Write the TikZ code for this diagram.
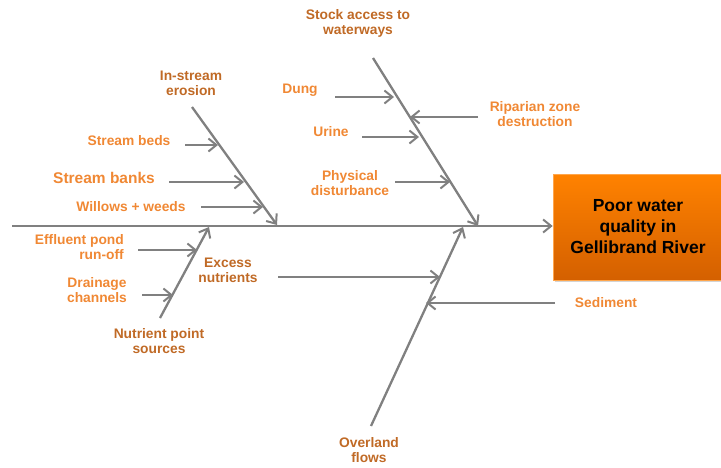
\documentclass[tikz,border=0pt]{standalone}
\usepackage{fontspec}
\setmainfont{Liberation Sans}
\usetikzlibrary{arrows.meta,shadows}
\definecolor{bonegray}{RGB}{128,128,128}
\definecolor{causedark}{RGB}{192,106,38}
\definecolor{causelight}{RGB}{240,136,52}
\definecolor{effecttop}{RGB}{255,130,0}
\definecolor{effectbot}{RGB}{212,96,0}
\begin{document}
\begin{tikzpicture}[x=1pt,y=-1pt,
  bone/.style={draw=bonegray,line width=2.3pt},
  arr/.style={bone,-{Straight Barb[length=8pt,width=13pt,line width=2pt]}},
  maincause/.style={font=\bfseries\fontsize{13.8}{15}\selectfont,text=causedark,align=center,inner sep=0pt},
  subcause/.style={font=\bfseries\fontsize{13.8}{15}\selectfont,text=causelight,align=center,inner sep=0pt},
  effectbox/.style={draw=orange!70,line width=0.6pt,top color=effecttop,bottom color=effectbot,
    minimum width=170pt,minimum height=106pt,align=center,inner sep=0pt,
    font=\bfseries\fontsize{17.5}{21}\selectfont,text=black,
    drop shadow={opacity=0.35,shadow xshift=2pt,shadow yshift=-2pt}},
]
\useasboundingbox (0,0) rectangle (721,467);

% effect
\node[effectbox] (effect) at (638,227) {Poor water\\quality in\\Gellibrand River};

% spine
\coordinate (tail) at (12,226);
\draw[arr] (tail) -- (effect.west |- tail);

% category labels
\node[maincause] (stock) at (358,23) {Stock access to\\waterways};
\node[maincause] (instream) at (191,83) {In-stream\\erosion};
\node[maincause] (excess) at (228,270) {Excess\\nutrients};
\node[maincause] (nps) at (159,341) {Nutrient point\\sources};
\node[maincause] (overland) at (369,450) {Overland\\flows};

% sub-cause labels
\node[subcause] (dung) at (300,90) {Dung};
\node[subcause] (urine) at (331,132) {Urine};
\node[subcause] (phys) at (350,183) {Physical\\disturbance};
\node[subcause] (ripar) at (535,114) {Riparian zone\\destruction};
\node[subcause] (beds) at (129,141) {Stream beds};
\node[subcause,font=\bfseries\fontsize{15.5}{18}\selectfont] (banks) at (104,178) {Stream banks};
\node[subcause] (willows) at (131,207) {Willows + weeds};
\node[subcause,align=right,anchor=east] (effluent) at (124,247) {Effluent pond\\run-off};
\node[subcause] (drainage) at (97,290) {Drainage\\channels};
\node[subcause] (sediment) at (606,303) {Sediment};

% bones
\coordinate (s1) at (373,58);  \coordinate (s2) at (478,226);
\coordinate (i1) at (192,107); \coordinate (i2) at (277,225);
\coordinate (n1) at (160,318); \coordinate (n2) at (209,227);
\coordinate (o1) at (371,426); \coordinate (o2) at (463,227);
\draw[arr] (s1) -- (s2);
\draw[arr] (i1) -- (i2);
\draw[arr] (n1) -- (n2);
\draw[arr] (o1) -- (o2);

% sub-cause arrows
\coordinate (dungA) at (335,97);   \coordinate (dungB) at (394,97);
\coordinate (riparA) at (478,117); \coordinate (riparB) at (410,117);
\coordinate (urineA) at (362,137); \coordinate (urineB) at (419,137);
\coordinate (physA) at (395,182);  \coordinate (physB) at (450,182);
\coordinate (bedsA) at (185,145);  \coordinate (bedsB) at (218,145);
\coordinate (banksA) at (169,182); \coordinate (banksB) at (244,182);
\coordinate (willA) at (201,207);  \coordinate (willB) at (263,207);
\coordinate (efflA) at (138,250);  \coordinate (efflB) at (197,250);
\coordinate (drainA) at (142,295); \coordinate (drainB) at (173,295);
\coordinate (excA) at (278,277);   \coordinate (excB) at (440,277);
\coordinate (sedA) at (555,303);   \coordinate (sedB) at (426,303);
\foreach \a/\b in {dungA/dungB,riparA/riparB,urineA/urineB,physA/physB,
  bedsA/bedsB,banksA/banksB,willA/willB,efflA/efflB,drainA/drainB,excA/excB,sedA/sedB}
  \draw[arr] (\a) -- (\b);
\end{tikzpicture}
\end{document}
